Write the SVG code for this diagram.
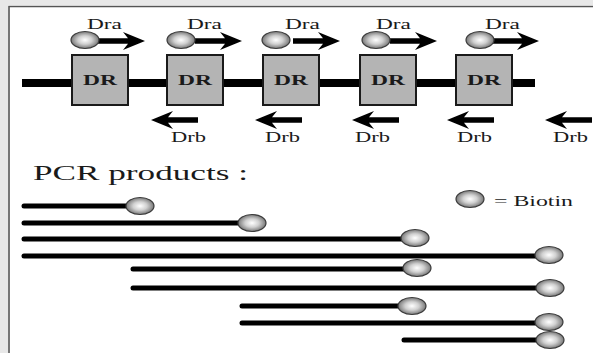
<svg xmlns="http://www.w3.org/2000/svg" xmlns:xlink="http://www.w3.org/1999/xlink" width="593" height="353" viewBox="0 0 593 353">
<style>
.lbl{font-family:"Liberation Serif","Times New Roman",serif;fill:#1a1a1a;}
.dr{font-family:"Liberation Serif","Times New Roman",serif;font-weight:bold;font-size:14px;fill:#1a1a1a;}
.box{fill:#b4b4b4;stroke:#1a1a1a;stroke-width:2;}
.prod{stroke:#000;stroke-width:5;stroke-linecap:round;fill:none;}
.ball{fill:url(#bg);stroke:#3a3a3a;stroke-width:1.2;}
</style>
<defs>
<radialGradient id="bg" cx="0.5" cy="0.5" r="0.55">
<stop offset="0" stop-color="#ffffff"/>
<stop offset="0.45" stop-color="#d0d0d0"/>
<stop offset="1" stop-color="#666666"/>
</radialGradient>
<path id="arR" d="M0,0 L-22,-9 L-17,-2.8 L-47,-2.8 L-47,2.8 L-17,2.8 L-22,9 Z" fill="#000"/>
<path id="arL" d="M0,0 L22,-9 L17,-2.8 L47,-2.8 L47,2.8 L17,2.8 L22,9 Z" fill="#000"/>
<ellipse id="bt" cx="0" cy="0" rx="14" ry="8.5" class="ball"/>
</defs>
<rect x="0" y="0" width="593" height="353" fill="#fff"/>
<rect x="0" y="0" width="593" height="5" fill="#e8e8e8"/>
<rect x="0" y="0" width="8" height="353" fill="#e8e8e8"/>
<path d="M9,353 V6.5 H593" fill="none" stroke="#555" stroke-width="1.6"/>

<g id="connectors">
<line x1="22" y1="83" x2="535" y2="83" stroke="#000" stroke-width="8"/>
<use xlink:href="#arR" x="145" y="41"/>
<use xlink:href="#arR" x="242" y="41"/>
<use xlink:href="#arR" x="340" y="41"/>
<use xlink:href="#arR" x="437" y="41"/>
<use xlink:href="#arR" x="539" y="41"/>
<use xlink:href="#arL" x="151" y="120"/>
<use xlink:href="#arL" x="255" y="120"/>
<use xlink:href="#arL" x="352" y="120"/>
<use xlink:href="#arL" x="447" y="120"/>
<use xlink:href="#arL" x="545" y="120"/>
<line class="prod" x1="24" y1="206" x2="140" y2="206"/>
<line class="prod" x1="24" y1="223" x2="252" y2="223"/>
<line class="prod" x1="24" y1="239" x2="415" y2="239"/>
<line class="prod" x1="24" y1="256" x2="549" y2="256"/>
<line class="prod" x1="133" y1="269" x2="417" y2="269"/>
<line class="prod" x1="133" y1="288" x2="550" y2="288"/>
<line class="prod" x1="242" y1="306" x2="412" y2="306"/>
<line class="prod" x1="242" y1="323" x2="549" y2="323"/>
<line class="prod" x1="404" y1="340" x2="550" y2="340"/>
</g>

<g id="dr1"><rect class="box" x="72" y="55" width="56" height="50"/><text class="dr" x="100" y="85" text-anchor="middle" textLength="34" lengthAdjust="spacingAndGlyphs">DR</text></g>
<g id="dr2"><rect class="box" x="167" y="55" width="56" height="50"/><text class="dr" x="195" y="85" text-anchor="middle" textLength="34" lengthAdjust="spacingAndGlyphs">DR</text></g>
<g id="dr3"><rect class="box" x="263" y="55" width="56" height="50"/><text class="dr" x="291" y="85" text-anchor="middle" textLength="34" lengthAdjust="spacingAndGlyphs">DR</text></g>
<g id="dr4"><rect class="box" x="360" y="55" width="56" height="50"/><text class="dr" x="388" y="85" text-anchor="middle" textLength="34" lengthAdjust="spacingAndGlyphs">DR</text></g>
<g id="dr5"><rect class="box" x="456" y="55" width="56" height="50"/><text class="dr" x="484" y="85" text-anchor="middle" textLength="34" lengthAdjust="spacingAndGlyphs">DR</text></g>

<g id="dra-primers">
<use xlink:href="#bt" x="85" y="40"/>
<use xlink:href="#bt" x="181" y="40"/>
<use xlink:href="#bt" x="276" y="40"/>
<use xlink:href="#bt" x="376" y="40"/>
<use xlink:href="#bt" x="480" y="40"/>
<text class="lbl" font-size="15" x="87" y="29" textLength="35" lengthAdjust="spacingAndGlyphs">Dra</text>
<text class="lbl" font-size="15" x="187" y="29" textLength="35" lengthAdjust="spacingAndGlyphs">Dra</text>
<text class="lbl" font-size="15" x="285" y="29" textLength="35" lengthAdjust="spacingAndGlyphs">Dra</text>
<text class="lbl" font-size="15" x="376" y="29" textLength="35" lengthAdjust="spacingAndGlyphs">Dra</text>
<text class="lbl" font-size="15" x="485" y="29" textLength="35" lengthAdjust="spacingAndGlyphs">Dra</text>
</g>
<g id="drb-primers">
<text class="lbl" font-size="15" x="171" y="142" textLength="35" lengthAdjust="spacingAndGlyphs">Drb</text>
<text class="lbl" font-size="15" x="265" y="142" textLength="35" lengthAdjust="spacingAndGlyphs">Drb</text>
<text class="lbl" font-size="15" x="355" y="142" textLength="35" lengthAdjust="spacingAndGlyphs">Drb</text>
<text class="lbl" font-size="15" x="457" y="142" textLength="35" lengthAdjust="spacingAndGlyphs">Drb</text>
<text class="lbl" font-size="15" x="553" y="142" textLength="35" lengthAdjust="spacingAndGlyphs">Drb</text>
</g>

<g id="pcr-title"><text class="lbl" font-size="22" x="33" y="180" textLength="215" lengthAdjust="spacingAndGlyphs">PCR products :</text></g>

<g id="products-biotin">
<use xlink:href="#bt" x="140" y="206"/>
<use xlink:href="#bt" x="252" y="223"/>
<use xlink:href="#bt" x="415" y="238"/>
<use xlink:href="#bt" x="549" y="255"/>
<use xlink:href="#bt" x="417" y="268"/>
<use xlink:href="#bt" x="550" y="288"/>
<use xlink:href="#bt" x="412" y="306"/>
<use xlink:href="#bt" x="549" y="322"/>
<use xlink:href="#bt" x="550" y="340"/>
</g>

<g id="legend">
<use xlink:href="#bt" x="470" y="199"/>
<text class="lbl" font-size="15" x="494" y="206" textLength="79" lengthAdjust="spacingAndGlyphs">= Biotin</text>
</g>
</svg>
